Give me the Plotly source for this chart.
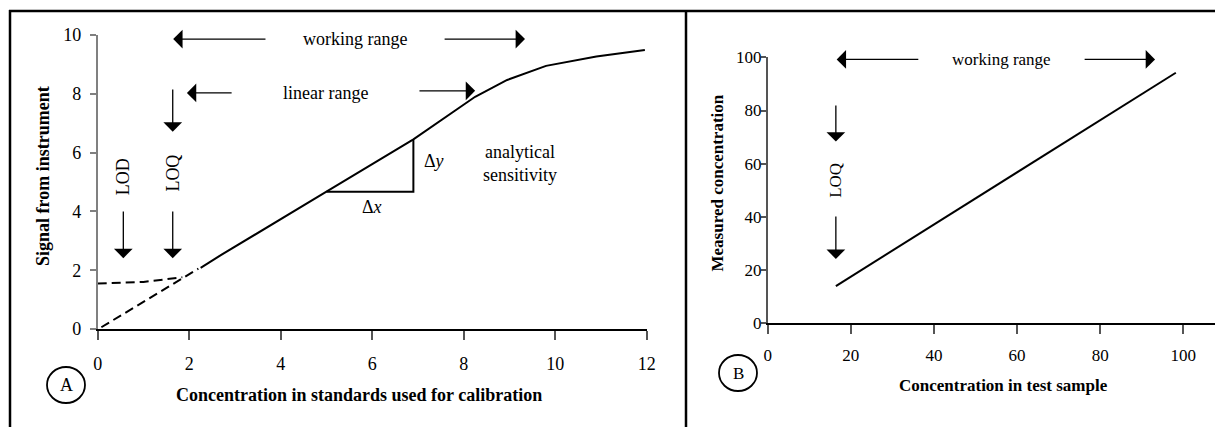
import plotly.graph_objects as go

# The page body has an 8px margin, so the figure is drawn 8px in from the corner.
OFF = 8
W, H = 1223 - OFF, 427 - OFF
FONT = "Liberation Serif, Times New Roman, serif"

# ---------------- data (panel A) ----------------
blank_x = [0.0, 1.0, 1.85]
blank_y = [1.55, 1.60, 1.76]
extrap_x = [0.08, 2.2]
extrap_y = [0.06, 2.05]
calib_x = [2.25, 2.7, 5.0, 6.9, 8.25, 8.95, 9.8, 10.9, 11.96]
calib_y = [2.08, 2.52, 4.67, 6.45, 7.9, 8.47, 8.95, 9.27, 9.49]
ticks_a_x = [0, 2, 4, 6, 8, 10, 12]
ticks_a_y = [0, 2, 4, 6, 8, 10]
# slope triangle (Δx, Δy)
tri_x = [5.0, 6.9, 6.9]
tri_y = [4.67, 4.67, 6.45]

# ---------------- data (panel B) ----------------
meas_x = [16.4, 98.2]
meas_y = [14.0, 94.2]
ticks_b_x = [0, 20, 40, 60, 80, 100]
ticks_b_y = [0, 20, 40, 60, 80, 100]


def px(x):
    return (x - OFF) / W


def py(y):
    return 1 - (y - OFF) / H


fig = go.Figure()
line = dict(color="black", width=2)
dash = dict(color="black", width=2, dash="9px,5px")

fig.add_trace(go.Scatter(x=blank_x, y=blank_y, mode="lines", line=dash, xaxis="x", yaxis="y"))
fig.add_trace(go.Scatter(x=extrap_x, y=extrap_y, mode="lines", line=dash, xaxis="x", yaxis="y"))
fig.add_trace(go.Scatter(x=calib_x, y=calib_y, mode="lines", line=line, xaxis="x", yaxis="y"))
fig.add_trace(go.Scatter(x=tri_x, y=tri_y, mode="lines", line=line, xaxis="x", yaxis="y"))
fig.add_trace(go.Scatter(x=meas_x, y=meas_y, mode="lines", line=line, xaxis="x2", yaxis="y2"))

axis_common = dict(showgrid=False, zeroline=False, showline=True, ticks="outside",
                   automargin=False, fixedrange=True)

fig.update_layout(
    width=W, height=H, margin=dict(l=0, r=0, t=0, b=0),
    paper_bgcolor="white", plot_bgcolor="white", showlegend=False,
    font=dict(family=FONT, color="black", size=18),
    xaxis=dict(domain=[px(97.7), px(646.7)], range=[0, 12], tickvals=ticks_a_x,
               linecolor="black", linewidth=1.5, tickcolor="#555", ticklen=9, tickwidth=1.5,
               tickfont=dict(size=18), ticklabelstandoff=9, anchor="y", **axis_common),
    yaxis=dict(domain=[py(329), py(35)], range=[0, 10], tickvals=ticks_a_y,
               linecolor="#808080", linewidth=1.5, tickcolor="#808080", ticklen=6, tickwidth=1.5,
               tickfont=dict(size=18), ticklabelstandoff=5, anchor="x", **axis_common),
    xaxis2=dict(domain=[px(767.7), px(1218)], range=[0, 108.35], tickvals=ticks_b_x,
                linecolor="black", linewidth=1.5, tickcolor="#555", ticklen=9, tickwidth=1.5,
                tickfont=dict(size=17), ticklabelstandoff=7, anchor="y2", **axis_common),
    yaxis2=dict(domain=[py(323.3), py(57.3)], range=[0, 100], tickvals=ticks_b_y,
                linecolor="#555", linewidth=1.5, tickcolor="#555", ticklen=5, tickwidth=1.5,
                tickfont=dict(size=17), ticklabelstandoff=-4, anchor="x2", **axis_common),
)

ann = []


def arrow(xr, yr, x, y, ax, ay):
    ann.append(dict(xref=xr, yref=yr, axref=xr, ayref=yr, x=x, y=y, ax=ax, ay=ay,
                    text="", showarrow=True, arrowhead=1, arrowsize=2.4, arrowwidth=1.3,
                    arrowcolor="black", standoff=0, startstandoff=0))


def text(xr, yr, x, y, t, size=18, angle=0, bold=False, xanchor="center"):
    if bold:
        t = "<b>" + t + "</b>"
    ann.append(dict(xref=xr, yref=yr, x=x, y=y, text=t, showarrow=False, textangle=angle,
                    font=dict(family=FONT, size=size, color="black"),
                    xanchor=xanchor, yanchor="middle"))


# ---- panel A annotations ----
arrow("x", "y", 1.65, 9.86, 3.70, 9.86)
arrow("x", "y", 9.34, 9.86, 7.55, 9.86)
text("x", "y", 5.62, 9.86, "working range")
arrow("x", "y", 1.95, 8.03, 2.96, 8.03)
arrow("x", "y", 8.25, 8.10, 7.0, 8.10)
text("x", "y", 4.99, 8.03, "linear range")
arrow("x", "y", 1.64, 6.71, 1.64, 8.2)
text("x", "y", 1.64, 5.31, "LOQ", angle=-90)
text("x", "y", 0.56, 5.17, "LOD", angle=-90)
arrow("x", "y", 0.56, 2.41, 0.56, 4.05)
arrow("x", "y", 1.64, 2.41, 1.64, 4.05)
text("x", "y", 7.35, 5.72, "Δ<i>y</i>")
text("x", "y", 5.99, 4.16, "Δ<i>x</i>")
text("x", "y", 9.23, 5.64, "analytical<br>sensitivity")
text("paper", "paper", px(359), py(395), "Concentration in standards used for calibration", bold=True)
text("paper", "paper", px(43), py(176), "Signal from instrument", angle=-90, bold=True)
text("paper", "paper", px(66), py(385), "A")

# ---- panel B annotations ----
arrow("x2", "y2", 16.6, 99.2, 36.6, 99.2)
arrow("x2", "y2", 93.2, 99.2, 75.9, 99.2)
text("x2", "y2", 56.3, 99.0, "working range", size=17)
arrow("x2", "y2", 16.4, 68.3, 16.4, 82.4)
text("x2", "y2", 16.4, 53.9, "LOQ", size=17, angle=-90)
arrow("x2", "y2", 16.4, 24.2, 16.4, 40.7)
text("paper", "paper", px(1003), py(385), "Concentration in test sample", size=17, bold=True)
text("paper", "paper", px(717), py(183.5), "Measured concentration", size=17, angle=-90, bold=True)
text("paper", "paper", px(738), py(373), "B", size=17)

fig.update_layout(annotations=ann)

# ---- shapes: frame and circles ----
shapes = [
    dict(type="line", xref="paper", yref="paper", x0=px(9), x1=1, y0=py(11), y1=py(11),
         line=dict(color="black", width=2.5)),
    dict(type="line", xref="paper", yref="paper", x0=px(10), x1=px(10), y0=py(10), y1=0,
         line=dict(color="black", width=2.5)),
    dict(type="line", xref="paper", yref="paper", x0=px(686), x1=px(686), y0=py(10), y1=0,
         line=dict(color="black", width=2.5)),
    dict(type="circle", xref="paper", yref="paper", xsizemode="pixel", ysizemode="pixel",
         xanchor=px(66), yanchor=py(385), x0=-19, x1=19, y0=-18, y1=18,
         line=dict(color="black", width=1.8)),
    dict(type="circle", xref="paper", yref="paper", xsizemode="pixel", ysizemode="pixel",
         xanchor=px(738), yanchor=py(373), x0=-19, x1=19, y0=-18, y1=18,
         line=dict(color="black", width=1.8)),
]
fig.update_layout(shapes=shapes)

fig.write_html("out.html")
